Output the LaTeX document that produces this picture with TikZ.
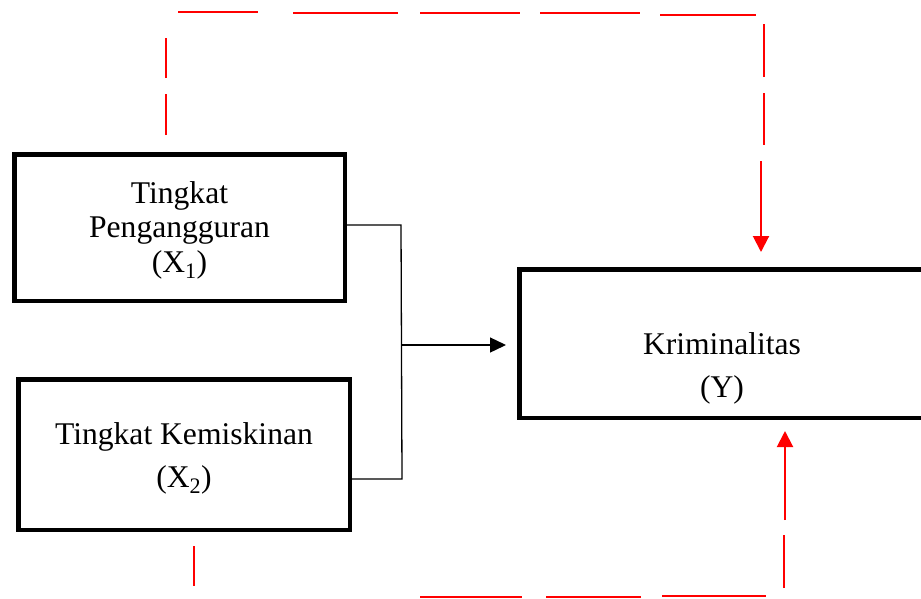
\documentclass[tikz,border=0pt]{standalone}
\usepackage{fontspec}
\setmainfont{Liberation Serif}
\usetikzlibrary{arrows.meta}
\begin{document}
\begin{tikzpicture}[x=1pt,y=-1pt,
  box/.style={draw, line width=4.5pt, rectangle, inner sep=0pt},
  lbl/.style={align=center, inner sep=0pt},
  link/.style={line width=1.3pt},
  linkarrow/.style={link, -{Triangle[length=16pt,width=15pt]}},
  reddash/.style={draw=red, line width=2pt},
  redarrow/.style={reddash, -{Triangle[length=16pt,width=16pt]}}]

\useasboundingbox (0,0) rectangle (921,598);
\clip (0,0) rectangle (921,598);

% variable boxes
\node[box, minimum width=330.5pt, minimum height=146.5pt] (x1) at (179.5,227.5) {};
\node[lbl, font=\fontsize{31.6}{34.5}\selectfont] (x1t) at (179.5,230)
  {Tingkat\\Pengangguran\\(X\textsubscript{1})};

\node[box, minimum width=331.5pt, minimum height=150.5pt] (x2) at (184,454.5) {};
\node[lbl, font=\fontsize{31.6}{43}\selectfont] (x2t) at (184,458)
  {Tingkat Kemiskinan\\(X\textsubscript{2})};

\node[box, minimum width=405.5pt, minimum height=148.5pt] (y) at (722,343.5) {};
\node[lbl, font=\fontsize{31.6}{43}\selectfont] (yt) at (722,368)
  {Kriminalitas\\(Y)};

% joint influence of X1 and X2 on Y
\coordinate (j1) at (401,225);
\coordinate (j2) at (402,479);
\coordinate (jm) at (402,345);
\draw[link] (x1.east |- j1) -- (j1) -- (j2) -- (x2.east |- j2);
\draw[linkarrow, shorten >=11pt] (jm) -- (y.west |- jm);

% partial influence of X1 on Y (upper dashed route)
\draw[reddash] (166,135) -- (166,94) (166,78) -- (166,38)
  (178,12) -- (258,12) (293,13) -- (398,13) (420,13) -- (520,13)
  (540,13) -- (640,13) (660,15) -- (756,15)
  (764,24) -- (764,77) (764,93) -- (764,145);
\coordinate (ta) at (761,161);
\draw[redarrow, shorten >=15pt] (ta) -- (ta |- y.north);

% partial influence of X2 on Y (lower dashed route)
\draw[reddash] (194,546) -- (194,586)
  (420,597) -- (522,597) (546,597) -- (641,597) (662,596) -- (766,596)
  (784,588) -- (784,535);
\coordinate (ba) at (785,520);
\draw[redarrow, shorten >=11pt] (ba) -- (ba |- y.south);
\end{tikzpicture}
\end{document}
